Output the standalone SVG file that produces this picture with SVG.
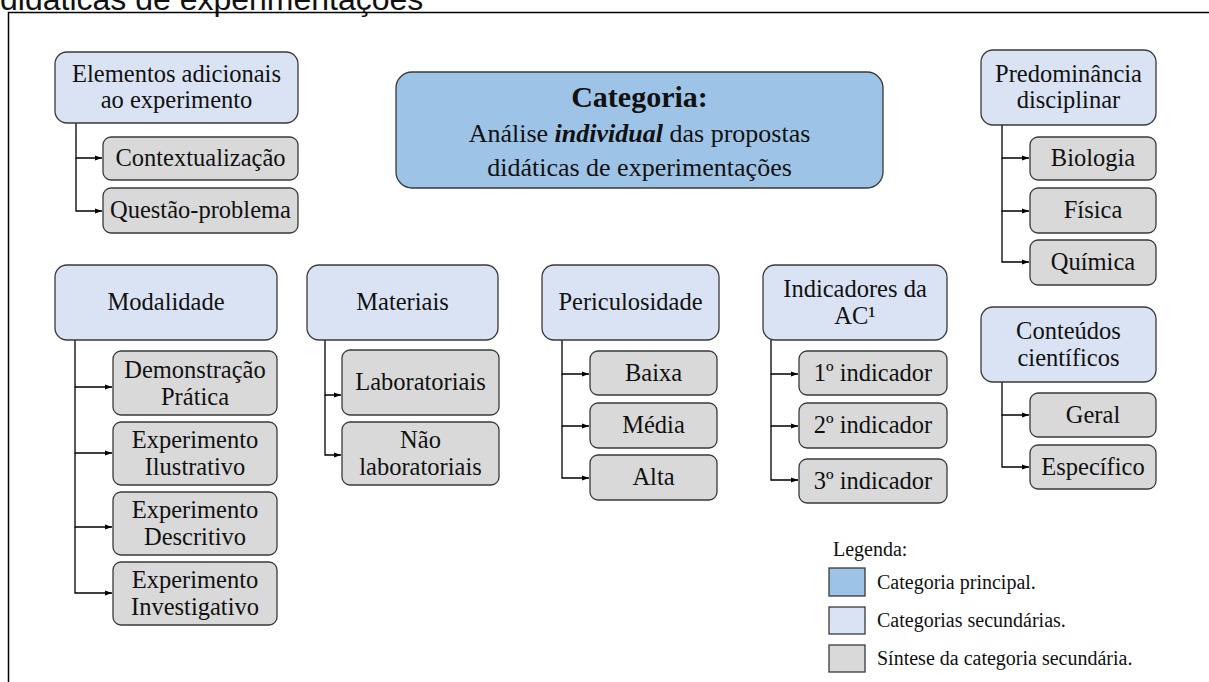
<svg xmlns="http://www.w3.org/2000/svg" width="1209" height="682" viewBox="0 0 1209 682">
<defs>
<marker id="ah" markerWidth="8" markerHeight="8" refX="7" refY="4" orient="auto" markerUnits="userSpaceOnUse">
<path d="M0,1.5 L7,4 L0,6.5 Z" fill="#000"/>
</marker>
<style>
.main{fill:#9DC3E6;stroke:#3a3a3a;stroke-width:1.3}
.sec{fill:#DAE3F3;stroke:#3a3a3a;stroke-width:1.3}
.syn{fill:#D9D9D9;stroke:#3a3a3a;stroke-width:1.3}
text{font-family:"Liberation Serif","Times New Roman",serif;fill:#111}
.t{font-size:24.5px;text-anchor:middle}
.c{font-size:26px;text-anchor:middle}
.lg{font-size:20px}
.conn path{fill:none;stroke:#000;stroke-width:1.3}
</style>
</defs>
<rect width="1209" height="682" fill="#fff"/>
<text x="0" y="10" style="font-family:'Liberation Sans',Arial,sans-serif;font-size:32px">didáticas de experimentações</text>
<path d="M8.5,682 V12.5 H1209" fill="none" stroke="#000" stroke-width="1.5"/>

<g id="connectors" class="conn">
<path d="M76,123 V158 H102" marker-end="url(#ah)"/>
<path d="M76,158 V211 H102" marker-end="url(#ah)"/>
<path d="M1002,125 V158 H1029" marker-end="url(#ah)"/>
<path d="M1002,158 V211 H1029" marker-end="url(#ah)"/>
<path d="M1002,211 V262 H1029" marker-end="url(#ah)"/>
<path d="M75,340 V387 H112" marker-end="url(#ah)"/>
<path d="M75,387 V453 H112" marker-end="url(#ah)"/>
<path d="M75,453 V527 H112" marker-end="url(#ah)"/>
<path d="M75,527 V593 H112" marker-end="url(#ah)"/>
<path d="M325,340 V395 H341" marker-end="url(#ah)"/>
<path d="M325,395 V455 H341" marker-end="url(#ah)"/>
<path d="M562,340 V374 H589" marker-end="url(#ah)"/>
<path d="M562,374 V426 H589" marker-end="url(#ah)"/>
<path d="M562,426 V478 H589" marker-end="url(#ah)"/>
<path d="M771,340 V374 H798" marker-end="url(#ah)"/>
<path d="M771,374 V426 H798" marker-end="url(#ah)"/>
<path d="M771,426 V480 H798" marker-end="url(#ah)"/>
<path d="M1002,382 V415 H1029" marker-end="url(#ah)"/>
<path d="M1002,415 V467 H1029" marker-end="url(#ah)"/>
</g>

<g id="n-main">
<rect class="main" x="396" y="72" width="487" height="116" rx="16"/>
<text x="639.5" y="107" style="font-size:30px;font-weight:bold;text-anchor:middle">Categoria:</text>
<text class="c" x="639.5" y="142">Análise <tspan font-weight="bold" font-style="italic">individual</tspan> das propostas</text>
<text class="c" x="639.5" y="176">didáticas de experimentações</text>
</g>

<g id="n-elementos">
<rect class="sec" x="55" y="52" width="243" height="71" rx="12"/>
<text class="t" x="176.5" y="82">Elementos adicionais</text>
<text class="t" x="176.5" y="108">ao experimento</text>
</g>
<g id="n-contextualizacao"><rect class="syn" x="103" y="137" width="195" height="43" rx="8"/><text class="t" x="200.5" y="166">Contextualização</text></g>
<g id="n-questao"><rect class="syn" x="103" y="188" width="195" height="45" rx="8"/><text class="t" x="200.5" y="218">Questão-problema</text></g>

<g id="n-predominancia">
<rect class="sec" x="981" y="50" width="175" height="75" rx="12"/>
<text class="t" x="1068.5" y="82">Predominância</text>
<text class="t" x="1068.5" y="108">disciplinar</text>
</g>
<g id="n-biologia"><rect class="syn" x="1030" y="137" width="126" height="43" rx="8"/><text class="t" x="1093" y="166">Biologia</text></g>
<g id="n-fisica"><rect class="syn" x="1030" y="188" width="126" height="45" rx="8"/><text class="t" x="1093" y="218">Física</text></g>
<g id="n-quimica"><rect class="syn" x="1030" y="240" width="126" height="45" rx="8"/><text class="t" x="1093" y="270">Química</text></g>

<g id="n-modalidade">
<rect class="sec" x="55" y="265" width="222" height="75" rx="12"/>
<text class="t" x="166" y="310">Modalidade</text>
</g>
<g id="n-demonstracao"><rect class="syn" x="113" y="351" width="164" height="64" rx="8"/><text class="t" x="195" y="377.5">Demonstração</text><text class="t" x="195" y="404.5">Prática</text></g>
<g id="n-ilustrativo"><rect class="syn" x="113" y="422" width="164" height="63" rx="8"/><text class="t" x="195" y="448">Experimento</text><text class="t" x="195" y="475">Ilustrativo</text></g>
<g id="n-descritivo"><rect class="syn" x="113" y="492" width="164" height="63" rx="8"/><text class="t" x="195" y="518">Experimento</text><text class="t" x="195" y="545">Descritivo</text></g>
<g id="n-investigativo"><rect class="syn" x="113" y="562" width="164" height="63" rx="8"/><text class="t" x="195" y="588">Experimento</text><text class="t" x="195" y="615">Investigativo</text></g>

<g id="n-materiais">
<rect class="sec" x="307" y="265" width="191" height="75" rx="12"/>
<text class="t" x="402.5" y="310">Materiais</text>
</g>
<g id="n-laboratoriais"><rect class="syn" x="342" y="350" width="157" height="65" rx="8"/><text class="t" x="420.5" y="390">Laboratoriais</text></g>
<g id="n-naolab"><rect class="syn" x="342" y="422" width="157" height="63" rx="8"/><text class="t" x="420.5" y="448">Não</text><text class="t" x="420.5" y="475">laboratoriais</text></g>

<g id="n-periculosidade">
<rect class="sec" x="542" y="265" width="177" height="75" rx="12"/>
<text class="t" x="630.5" y="310">Periculosidade</text>
</g>
<g id="n-baixa"><rect class="syn" x="590" y="351" width="127" height="44" rx="8"/><text class="t" x="653.5" y="381">Baixa</text></g>
<g id="n-media"><rect class="syn" x="590" y="403" width="127" height="45" rx="8"/><text class="t" x="653.5" y="433">Média</text></g>
<g id="n-alta"><rect class="syn" x="590" y="455" width="127" height="45" rx="8"/><text class="t" x="653.5" y="485">Alta</text></g>

<g id="n-indicadores">
<rect class="sec" x="763" y="265" width="184" height="75" rx="12"/>
<text class="t" x="855" y="297">Indicadores da</text>
<text class="t" x="855" y="324">AC¹</text>
</g>
<g id="n-ind1"><rect class="syn" x="799" y="351" width="148" height="44" rx="8"/><text class="t" x="873" y="381">1º indicador</text></g>
<g id="n-ind2"><rect class="syn" x="799" y="403" width="148" height="45" rx="8"/><text class="t" x="873" y="433">2º indicador</text></g>
<g id="n-ind3"><rect class="syn" x="799" y="459" width="148" height="44" rx="8"/><text class="t" x="873" y="489">3º indicador</text></g>

<g id="n-conteudos">
<rect class="sec" x="981" y="307" width="175" height="75" rx="12"/>
<text class="t" x="1068.5" y="339">Conteúdos</text>
<text class="t" x="1068.5" y="366">científicos</text>
</g>
<g id="n-geral"><rect class="syn" x="1030" y="393" width="126" height="44" rx="8"/><text class="t" x="1093" y="423">Geral</text></g>
<g id="n-especifico"><rect class="syn" x="1030" y="445" width="126" height="44" rx="8"/><text class="t" x="1093" y="475">Específico</text></g>

<g id="legend">
<text class="lg" x="833" y="556">Legenda:</text>
<rect class="main" x="829" y="568" width="36" height="28"/>
<text class="lg" x="877" y="589">Categoria principal.</text>
<rect class="sec" x="829" y="607" width="36" height="27"/>
<text class="lg" x="877" y="627">Categorias secundárias.</text>
<rect class="syn" x="829" y="645" width="36" height="27"/>
<text class="lg" x="877" y="665">Síntese da categoria secundária.</text>
</g>
</svg>
